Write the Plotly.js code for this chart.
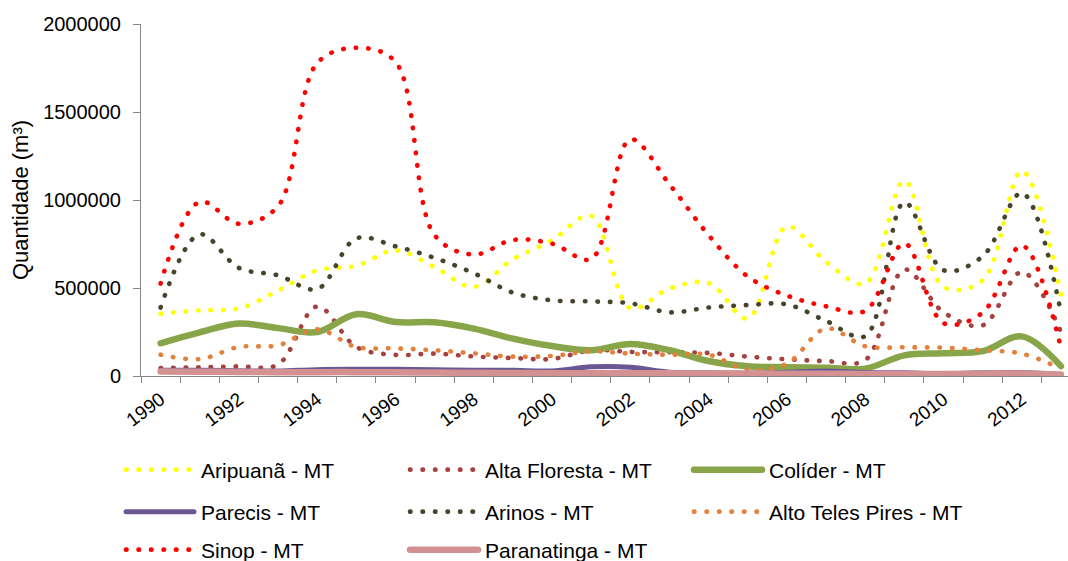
<!DOCTYPE html>
<html>
<head>
<meta charset="utf-8">
<script src="https://cdn.plot.ly/plotly-3.0.1.min.js"></script>
<style>
  html, body { margin: 0; padding: 0; background: #fff; overflow: hidden; }
  #chart { width: 1068px; height: 561px; }
  path.js-line { stroke-linecap: round; stroke-linejoin: round; }
</style>
</head>
<body>
<div id="chart"></div>
<script>
// ---- Data ----
const years = [1990,1991,1992,1993,1994,1995,1996,1997,1998,1999,2000,2001,2002,2003,2004,2005,2006,2007,2008,2009,2010,2011,2012,2013];

const aripuana       = [354000,373000,384000,485000,600000,626000,714000,619000,506000,663000,771000,910000,385000,497000,528000,326000,850000,648000,525000,1110000,506000,544000,1165000,460000];
const altaFloresta   = [45000,50000,55000,65000,395000,165000,120000,127000,111000,102000,97000,146000,137000,135000,131000,110000,95000,85000,90000,605000,362000,288000,591000,250000];
const colider        = [186000,248000,298000,272000,250000,351000,307000,305000,269000,212000,170000,146000,182000,146000,85000,55000,50000,47000,42000,117000,129000,141000,225000,56000];
const parecis        = [32000,32000,30000,28000,36000,38000,38000,36000,33000,32000,29000,52000,50000,22000,18000,16000,22000,28000,20000,18000,14000,18000,20000,8000];
const arinos         = [389000,805000,614000,572000,494000,782000,737000,671000,584000,474000,430000,424000,413000,362000,389000,403000,407000,313000,226000,987000,601000,680000,1040000,360000];
const altoTelesPires = [121000,96000,165000,174000,265000,165000,157000,146000,129000,110000,114000,140000,127000,121000,121000,35000,70000,270000,169000,163000,161000,146000,127000,42000];
const sinop          = [525000,990000,865000,965000,1778000,1865000,1785000,800000,690000,773000,752000,665000,1345000,1089000,800000,565000,457000,396000,370000,754000,300000,360000,742000,160000];
const paranatinga    = [25000,24000,23000,22000,22000,22000,21000,20000,18000,17000,16000,15000,15000,15000,14000,14000,13000,13000,12000,12000,12000,13000,14000,8000];

const seriesNames = ["Aripuanã - MT","Alta Floresta - MT","Colíder - MT","Parecis - MT","Arinos - MT","Alto Teles Pires - MT","Sinop - MT","Paranatinga - MT"];
const xTickLabels = [1990,1992,1994,1996,1998,2000,2002,2004,2006,2008,2010,2012];
const yTickValues = [0,500000,1000000,1500000,2000000];

// ---- Styling ----
const FONT = "Liberation Sans, Arial, sans-serif";
const DOT = "0.5px,12px";
const seriesData = [aripuana, altaFloresta, colider, parecis, arinos, altoTelesPires, sinop, paranatinga];
const styles = [
  {color:"#FFFF00", width:4.6, dash:DOT, legend:"legend"},
  {color:"#A5423F", width:4.6, dash:DOT, legend:"legend"},
  {color:"#88A54A", width:6.5, dash:"solid", legend:"legend"},
  {color:"#6A5793", width:5, dash:"solid", legend:"legend2"},
  {color:"#48442B", width:4.6, dash:DOT, legend:"legend2"},
  {color:"#E1813B", width:4.6, dash:DOT, legend:"legend2"},
  {color:"#FF0000", width:4.6, dash:DOT, legend:"legend3"},
  {color:"#D39291", width:6.5, dash:"solid", legend:"legend3"}
];

const traces = seriesData.map((vals, i) => ({
  type: "scatter",
  mode: "lines",
  x: years,
  y: vals,
  name: seriesNames[i],
  legend: styles[i].legend,
  line: {color: styles[i].color, width: styles[i].width, dash: styles[i].dash, shape: "spline", smoothing: 1},
  hoverinfo: "skip"
}));

const boundaryTicks = years.map(y => y - 0.5).concat([years[years.length-1] + 0.5]);

function legendDef(yc) {
  return {
    orientation: "h",
    xref: "container", yref: "container",
    x: 121/1068, xanchor: "left",
    y: yc, yanchor: "middle",
    entrywidth: 199, entrywidthmode: "pixels",
    itemwidth: 70,
    font: {family: FONT, size: 21, color: "#000"},
    bgcolor: "rgba(0,0,0,0)",
    traceorder: "normal"
  };
}

const layout = {
  width: 1068, height: 561,
  margin: {l: 141, r: 0, t: 24, b: 185, autoexpand: false},
  paper_bgcolor: "#fff", plot_bgcolor: "#fff",
  font: {family: FONT, size: 20, color: "#000"},
  showlegend: true,
  xaxis: {
    type: "linear",
    range: [1989.5, 2013.18],
    showline: true, linecolor: "#868686", linewidth: 1,
    showgrid: false, zeroline: false,
    tickmode: "array", tickvals: xTickLabels, ticktext: xTickLabels.map(String),
    ticks: "", tickangle: -37, ticklabelstandoff: 4,
    tickfont: {family: FONT, size: 19, color: "#000"},
    minor: {tickmode: "array", tickvals: boundaryTicks, ticks: "outside", ticklen: 6, tickcolor: "#868686", tickwidth: 1, showgrid: false}
  },
  yaxis: {
    range: [0, 2000000],
    showline: true, linecolor: "#868686", linewidth: 1,
    showgrid: false, zeroline: false,
    tickmode: "array", tickvals: yTickValues, tickformat: "d",
    ticks: "outside", ticklen: 7, tickcolor: "#868686", ticklabelstandoff: 8,
    tickfont: {family: FONT, size: 20, color: "#000"},
    title: {text: "Quantidade (m³)", font: {family: FONT, size: 22, color: "#000"}, standoff: 8}
  },
  legend: legendDef(1 - 470/561),
  legend2: legendDef(1 - 512/561),
  legend3: legendDef(1 - 550/561)
};

Plotly.newPlot("chart", traces, layout, {displayModeBar: false, staticPlot: true}).then(() => {
  document.querySelectorAll(".legendlines path").forEach(p => p.setAttribute("d", "M5,0h68"));
});
</script>
</body>
</html>
